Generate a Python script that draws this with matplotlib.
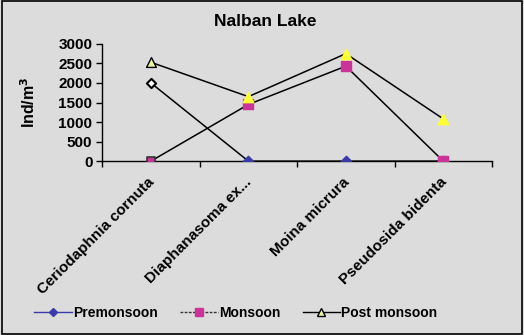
import matplotlib.pyplot as plt
import matplotlib.transforms as mtransforms
from matplotlib.lines import Line2D

plt.rcParams['font.family'] = ['Liberation Sans', 'DejaVu Sans']

species = ["Ceriodaphnia cornuta", "Diaphanasoma ex...", "Moina micrura", "Pseudosida bidenta"]
premonsoon = [2000, 0, 0, 0]
monsoon = [0, 1450, 2430, 0]
post_monsoon = [2530, 1650, 2750, 1080]
yticks = [0, 500, 1000, 1500, 2000, 2500, 3000]

bg = '#dcdcdc'
fig = plt.figure(figsize=(5.24, 3.35), dpi=100, facecolor=bg)
ax = fig.add_axes([0.195, 0.519, 0.744, 0.350], facecolor=bg)

x = list(range(len(species)))

# black connecting lines, coloured markers on top
for vals in (premonsoon, monsoon, post_monsoon):
    ax.plot(x, vals, color='black', lw=1.1, zorder=2)

ax.scatter(x[1:], premonsoon[1:], marker='D', s=28, color='#3a3aa8', zorder=3)
ax.scatter(x[:1], premonsoon[:1], marker='D', s=22, facecolor='white',
           edgecolor='black', lw=1.5, zorder=3)
ax.scatter(x[1:], monsoon[1:], marker='s', s=42, color='#cc3399', zorder=4)
ax.scatter(x[:1], monsoon[:1], marker='s', s=36, facecolor='#cc3399',
           edgecolor='#333333', lw=1.2, zorder=4)
ax.scatter(x[1:], post_monsoon[1:], marker='^', s=55, color='#ffff33', zorder=5)
ax.scatter(x[:1], post_monsoon[:1], marker='^', s=50, facecolor='#eef5a0',
           edgecolor='black', lw=1.0, zorder=5)

ax.set_xlim(-0.5, len(species) - 0.5)
ax.set_ylim(0, 3000)
ax.set_yticks(yticks)
ax.set_yticklabels([str(v) for v in yticks], fontsize=11, fontweight='bold')
ax.set_xticks([i - 0.5 for i in range(len(species) + 1)])
ax.set_xticklabels([])
ax.set_xticks(x, minor=True)
ax.set_xticklabels(species, minor=True, rotation=45, ha='right',
                   rotation_mode='anchor', fontsize=11, fontweight='bold')
ax.tick_params(axis='x', which='minor', length=0, pad=10)
ax.tick_params(axis='x', which='major', length=4, direction='out', width=1)
ax.tick_params(axis='y', length=4, width=1, pad=3)

# nudge the slanted category names a little to the left
shift = mtransforms.ScaledTranslation(-4 / 100, 0, fig.dpi_scale_trans)
for lbl in ax.get_xticklabels(minor=True):
    lbl.set_transform(lbl.get_transform() + shift)

for side in ('top', 'right'):
    ax.spines[side].set_visible(False)
for side in ('left', 'bottom'):
    ax.spines[side].set_linewidth(1)

ax.set_ylabel('Ind/m$^\\mathbf{3}$', fontsize=11.5, fontweight='bold', labelpad=15)
fig.text(0.507, 0.935, 'Nalban Lake', ha='center', va='center',
         fontsize=12.5, fontweight='bold')

handles = [
    Line2D([], [], color='#3a3aa8', lw=1, marker='D', markersize=4.5),
    Line2D([], [], color='#333333', lw=1, ls=(0, (2, 1)), marker='s', markersize=5.5,
           markerfacecolor='#cc3399', markeredgecolor='#cc3399'),
    Line2D([], [], color='black', lw=1, marker='^', markersize=5.5,
           markerfacecolor='#eef5a0', markeredgecolor='black'),
]
fig.legend(handles, ['Premonsoon', 'Monsoon', 'Post monsoon'], loc='center left',
           bbox_to_anchor=(0.052, 0.066), ncol=3, frameon=False, borderpad=0,
           prop={'size': 10, 'weight': 'bold'}, handlelength=2.7,
           handletextpad=0.1, columnspacing=1.6)

fig.add_artist(plt.Rectangle((0.003, 0.004), 0.994, 0.992, transform=fig.transFigure,
                             fill=False, edgecolor='black', lw=1.2))

fig.savefig('out.png', dpi=100, facecolor=bg)
